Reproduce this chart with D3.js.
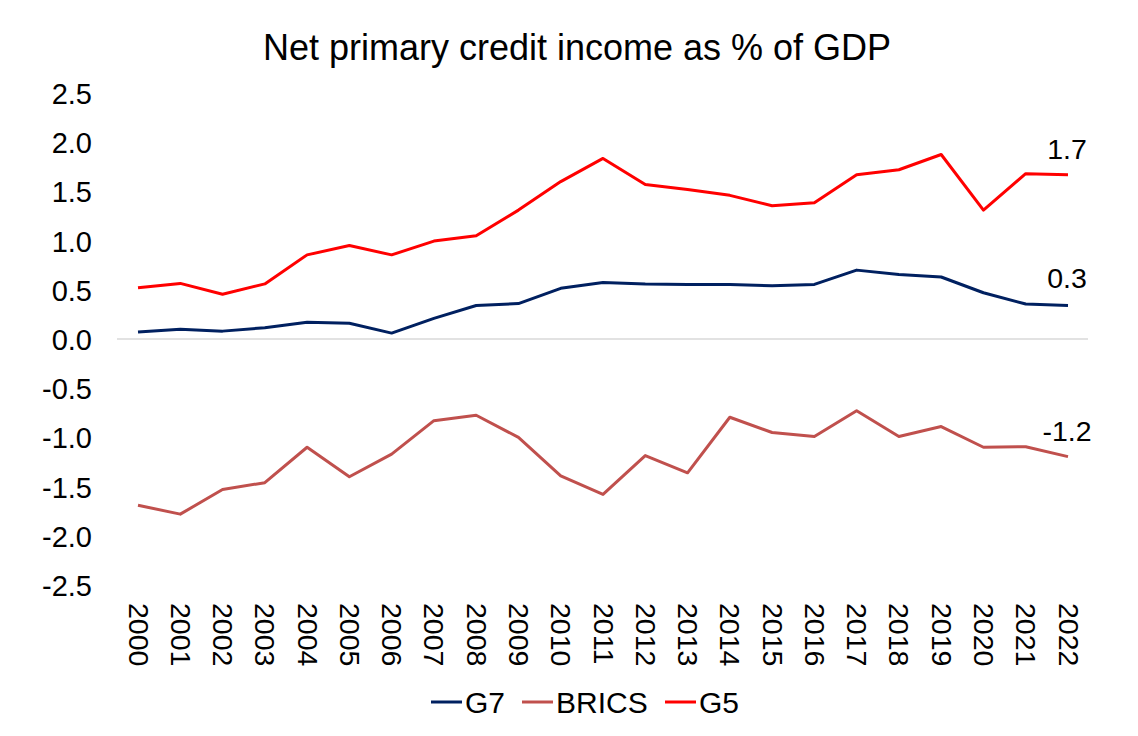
<!DOCTYPE html>
<html><head><meta charset="utf-8">
<script src="https://cdn.jsdelivr.net/npm/d3@7"></script>
<style>body{margin:0;background:#fff;} text{font-family:"Liberation Sans",Arial,sans-serif;fill:#000;}</style>
</head><body>
<svg id="c" width="1138" height="736"></svg>
<script>
const years = [2000,2001,2002,2003,2004,2005,2006,2007,2008,2009,2010,2011,2012,2013,2014,2015,2016,2017,2018,2019,2020,2021,2022];
const g7 = [0.07,0.10,0.08,0.115,0.17,0.16,0.06,0.21,0.34,0.36,0.515,0.575,0.56,0.555,0.555,0.54,0.555,0.70,0.655,0.63,0.47,0.355,0.34];
const brics = [-1.69,-1.78,-1.53,-1.46,-1.10,-1.40,-1.17,-0.83,-0.775,-1.00,-1.39,-1.58,-1.185,-1.36,-0.795,-0.95,-0.99,-0.73,-0.99,-0.89,-1.10,-1.095,-1.195];
const g5 = [0.52,0.565,0.455,0.56,0.855,0.95,0.855,0.995,1.05,1.31,1.60,1.835,1.57,1.52,1.46,1.355,1.385,1.67,1.72,1.875,1.31,1.68,1.67];
const yTicks = [2.5,2.0,1.5,1.0,0.5,0.0,-0.5,-1.0,-1.5,-2.0,-2.5];
const seriesNames = ["G7","BRICS","G5"];
const seriesColors = ["#002060","#C0504D","#FF0000"];
const endLabels = ["0.3","-1.2","1.7"];

const svg = d3.select("#c");
const x = d3.scalePoint().domain(years).range([138,1068]);
const y = d3.scaleLinear().domain([-2.5,2.5]).range([585,93]);
const FONT = "Liberation Sans, Arial, sans-serif";

svg.append("text").attr("x",577).attr("y",60).attr("text-anchor","middle")
  .style("font-size","36px").text("Net primary credit income as % of GDP");

// y tick labels (hyphen minus as in the source)
const yAxis = d3.axisLeft(y).tickValues(yTicks)
  .tickFormat(d => (d < 0 ? "-" : "") + Math.abs(d).toFixed(1)).tickSize(0).tickPadding(0);
const ya = svg.append("g").attr("transform","translate(92,0)").call(yAxis);
ya.select(".domain").remove();
ya.selectAll("text").style("font-size","29px").attr("dy","0.36em").style("font-family",FONT);

// zero line
svg.append("line").attr("x1",117).attr("x2",1088).attr("y1",y(0)).attr("y2",y(0))
  .attr("stroke","#d9d9d9").attr("stroke-width",1.5);

// x labels rotated
const xAxis = d3.axisBottom(x).tickSize(0).tickPadding(0);
const xa = svg.append("g").attr("transform","translate(0,603)").call(xAxis);
xa.select(".domain").remove();
xa.selectAll("text").style("font-size","28.5px").style("font-family",FONT)
  .attr("transform","rotate(90)").attr("text-anchor","start").attr("x",0).attr("y",0).attr("dy","0.35em");

const data = [g7,brics,g5];
const line = d3.line().x((d,i)=>x(years[i])).y(d=>y(d));
data.forEach((s,k)=>{
  svg.append("path").datum(s).attr("d",line).attr("fill","none")
    .attr("stroke",seriesColors[k]).attr("stroke-width",3).attr("stroke-linejoin","round");
});

// end labels
const labOff = [-18,-16,-16];
data.forEach((s,k)=>{
  svg.append("text").attr("x",x(2022)-1).attr("y",y(s[s.length-1])+labOff[k])
    .attr("text-anchor","middle").style("font-size","28.5px").text(endLabels[k]);
});

// legend
const legX = [431,522,665];
seriesNames.forEach((n,k)=>{
  svg.append("line").attr("x1",legX[k]).attr("x2",legX[k]+31).attr("y1",702).attr("y2",702)
    .attr("stroke",seriesColors[k]).attr("stroke-width",3);
  svg.append("text").attr("x",legX[k]+34).attr("y",713).style("font-size","30px").text(n);
});
</script>
</body></html>
